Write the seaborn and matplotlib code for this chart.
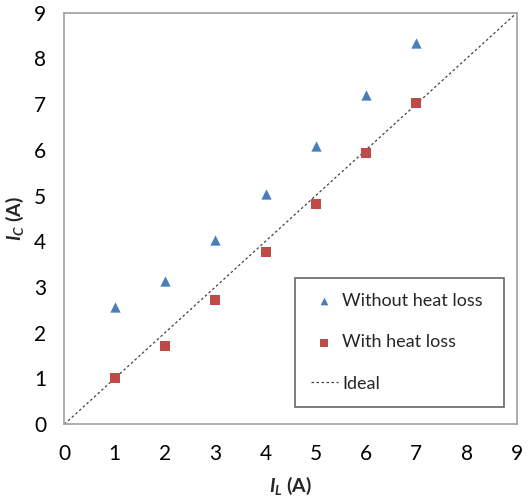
import matplotlib
matplotlib.use("Agg")
import matplotlib.pyplot as plt
from matplotlib import font_manager as fm
import seaborn as sns
import pandas as pd

current_L = [1, 2, 3, 4, 5, 6, 7]
without_loss = [2.56, 3.14, 4.03, 5.04, 6.09, 7.21, 8.34]
with_loss = [1.02, 1.70, 2.71, 3.77, 4.81, 5.93, 7.02]
ideal_x = [0, 9]
ideal_y = [0, 9]
ticks = list(range(10))

sns.set_theme(style="white")

def has_bold(fam):
    try:
        p = fm.findfont(fm.FontProperties(family=fam, weight='bold'), fallback_to_default=False)
        return ('bold' in p.lower()) or ('black' in p.lower()) or ('heavy' in p.lower())
    except Exception:
        return False

base = 'Lato'
bold_fam = next((f for f in ['Lato', 'Open Sans', 'Noto Sans', 'DejaVu Sans'] if has_bold(f)), 'DejaVu Sans')

plt.rcParams['font.family'] = [base, 'DejaVu Sans']
plt.rcParams['mathtext.fontset'] = 'custom'
plt.rcParams['mathtext.bfit'] = f'{bold_fam}:bold:italic'
plt.rcParams['mathtext.it'] = f'{base}:italic'
plt.rcParams['mathtext.bf'] = f'{bold_fam}:bold'
plt.rcParams['mathtext.rm'] = base

fig = plt.figure(figsize=(5.28, 4.99), dpi=100)
ax = fig.add_axes([0.122, 0.150, 0.857, 0.8246])

df1 = pd.DataFrame({"x": current_L, "y": without_loss})
df2 = pd.DataFrame({"x": current_L, "y": with_loss})
dfi = pd.DataFrame({"x": ideal_x, "y": ideal_y})

sns.scatterplot(data=df1, x="x", y="y", ax=ax, marker="^", s=55, color="#4A7EBB",
                edgecolor="#4A7EBB", linewidth=0, label="Without heat loss", zorder=3)
sns.scatterplot(data=df2, x="x", y="y", ax=ax, marker="s", s=50, color="#BE4B48",
                edgecolor="#BE4B48", linewidth=0, label="With heat loss", zorder=3)
sns.lineplot(data=dfi, x="x", y="y", ax=ax, color="#404040", linewidth=0.9,
             linestyle=(0, (2, 2)), label="Ideal", zorder=2)

ax.set_xlim(0, 9)
ax.set_ylim(0, 9)
ax.set_xticks(ticks)
ax.set_yticks(ticks)
ax.set_xticklabels([str(t) for t in ticks])
ax.set_yticklabels([str(t) for t in ticks])
ax.tick_params(axis='both', direction='in', length=7, width=1, color='#A0A0A0',
               labelsize=15, labelcolor='black')
ax.tick_params(axis='y', pad=13)
ax.tick_params(axis='x', pad=14)
for sp in ax.spines.values():
    sp.set_color('#A0A0A0')
    sp.set_linewidth(1.2)

ax.set_xlabel(r'$\mathbfit{I}_{\mathbfit{L}}$ (A)', fontsize=14, fontweight='bold',
              family=[bold_fam], labelpad=8)
ax.set_ylabel(r'$\mathbfit{I}_{\mathbfit{C}}$ (A)', fontsize=14, fontweight='bold',
              family=[bold_fam], labelpad=6)

leg = ax.legend(loc='lower left', bbox_to_anchor=(0.51, 0.042, 0.461, 0.326), mode='expand',
                frameon=True, fancybox=False, edgecolor='#404040', fontsize=13,
                labelspacing=1.4, handlelength=1.5, handletextpad=0.25, borderpad=0.85,
                borderaxespad=0, markerscale=0.75)
leg.get_frame().set_linewidth(1.2)

fig.savefig("out.png", dpi=100)
